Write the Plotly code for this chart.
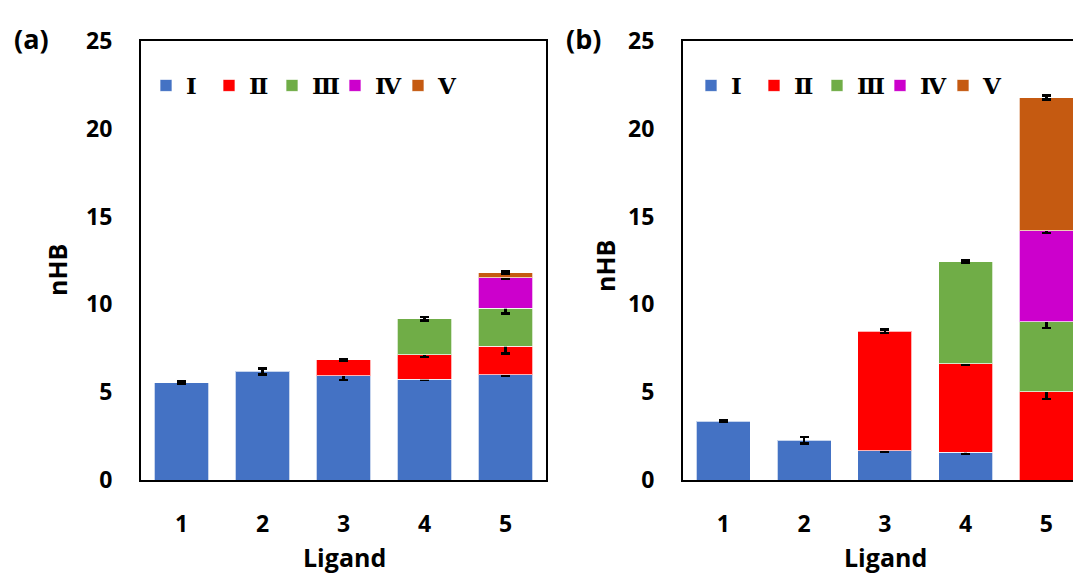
import plotly.graph_objects as go

W, H = 1073, 574

ligands = ["1", "2", "3", "4", "5"]
series_names = ["Ⅰ", "Ⅱ", "Ⅲ", "Ⅳ", "Ⅴ"]
colors = ["#4472C4", "#FF0000", "#70AD47", "#CC00CC", "#C55A11"]

# Panel (a): segment values (stacked) and error bars
a_I = [5.55, 6.18, 5.93, 5.74, 5.99]
a_II = [None, None, 0.92, 1.40, 1.63]
a_III = [None, None, None, 2.05, 2.17]
a_IV = [None, None, None, None, 1.73]
a_V = [None, None, None, None, 0.28]
a_I_err = [0.05, 0.18, 0.24, 0.05, 0.05]
a_II_err = [None, None, 0.05, 0.15, 0.42]
a_III_err = [None, None, None, 0.10, 0.30]
a_IV_err = [None, None, None, None, 0.08]
a_V_err = [None, None, None, None, 0.08]

# Panel (b)
b_I = [3.34, 2.26, 1.67, 1.57, 0.0]
b_II = [None, None, 6.79, 5.05, 5.03]
b_III = [None, None, None, 5.81, 3.97]
b_IV = [None, None, None, None, 5.20]
b_V = [None, None, None, None, 7.58]
b_I_err = [0.04, 0.18, 0.08, 0.10, 0.03]
b_II_err = [None, None, 0.10, 0.08, 0.40]
b_III_err = [None, None, None, 0.06, 0.35]
b_IV_err = [None, None, None, None, 0.12]
b_V_err = [None, None, None, None, 0.12]

panel_a = [a_I, a_II, a_III, a_IV, a_V]
panel_a_err = [a_I_err, a_II_err, a_III_err, a_IV_err, a_V_err]
panel_b = [b_I, b_II, b_III, b_IV, b_V]
panel_b_err = [b_I_err, b_II_err, b_III_err, b_IV_err, b_V_err]

y_ticks = [0, 5, 10, 15, 20, 25]

fig = go.Figure()

for vals_list, errs_list, xa, ya, leg in [
    (panel_a, panel_a_err, "x", "y", "legend"),
    (panel_b, panel_b_err, "x2", "y2", "legend2"),
]:
    for name, col, vals, errs in zip(series_names, colors, vals_list, errs_list):
        fig.add_trace(go.Bar(
            x=ligands, y=vals, name=name,
            marker=dict(color=col, line=dict(color="rgba(255,255,255,0.7)", width=1)),
            error_y=dict(type="data", array=errs, visible=True, color="black",
                         thickness=2.4, width=4.5),
            xaxis=xa, yaxis=ya, legend=leg, width=0.67,
        ))

x_dom_a = [141 / W, 546 / W]
x_dom_b = [683 / W, 1.0]
y_dom = [(H - 480) / H, (H - 41) / H]

tickfont = dict(family="Open Sans", size=23, color="black", weight="bold")
axis_common = dict(showline=True, linecolor="black", linewidth=2, mirror=True,
                   showgrid=False, zeroline=False, ticks="", tickfont=tickfont,
                   automargin=False)

legend_font = dict(family="DejaVu Serif", size=23, color="black", weight="bold")

fig.update_layout(
    width=W, height=H,
    margin=dict(l=0, r=0, t=0, b=0, autoexpand=False),
    paper_bgcolor="white", plot_bgcolor="white",
    barmode="stack",
    xaxis=dict(domain=x_dom_a, anchor="y", type="category", range=[-0.5, 4.5],
               ticklabelstandoff=22, **axis_common),
    yaxis=dict(domain=y_dom, anchor="x", range=[0, 25], tickvals=y_ticks,
               ticklabelstandoff=22, **axis_common),
    xaxis2=dict(domain=x_dom_b, anchor="y2", type="category", range=[-0.5, 4.33],
                ticklabelstandoff=22, **axis_common),
    yaxis2=dict(domain=y_dom, anchor="x2", range=[0, 25], tickvals=y_ticks,
                ticklabelstandoff=22, **axis_common),
    legend=dict(orientation="h", x=146 / W, y=1 - 85.5 / H, xanchor="left", yanchor="middle",
                bgcolor="rgba(0,0,0,0)", entrywidth=18, entrywidthmode="pixels",
                traceorder="normal", font=legend_font),
    legend2=dict(orientation="h", x=691 / W, y=1 - 85.5 / H, xanchor="left", yanchor="middle",
                 bgcolor="rgba(0,0,0,0)", entrywidth=18, entrywidthmode="pixels",
                 traceorder="normal", font=legend_font),
    showlegend=True,
)

title_font = dict(family="Open Sans", size=25, color="black", weight="bold")
label_font = dict(family="Open Sans", size=27, color="black", weight="bold")

def px(xp, yp):
    return xp / W, 1 - yp / H

annots = []
for (xt, yt, text, ang, f) in [
    (31, 38, "(a)", 0, label_font),
    (583, 38, "(b)", 0, label_font),
    (57, 270, "nHB", -90, title_font),
    (605, 266, "nHB", -90, title_font),
    (344, 557, "Ligand", 0, title_font),
    (885, 557, "Ligand", 0, title_font),
]:
    xx, yy = px(xt, yt)
    annots.append(dict(x=xx, y=yy, xref="paper", yref="paper", text=text, showarrow=False,
                       textangle=ang, font=f, xanchor="center", yanchor="middle"))
fig.update_layout(annotations=annots)

fig.write_html("out.html", config={"displayModeBar": False},
               post_script="document.body.style.margin='0';document.body.style.padding='0';")
